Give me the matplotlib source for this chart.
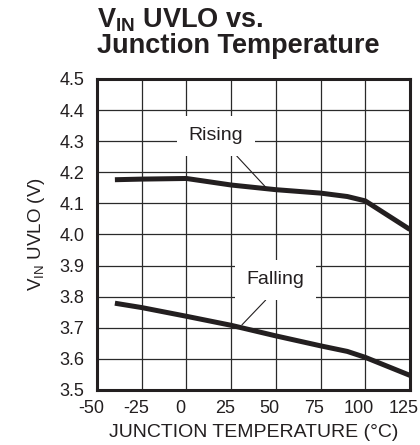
import matplotlib
matplotlib.use("Agg")
import matplotlib.pyplot as plt
import matplotlib.transforms as mtransforms

# data
temp = [-40, -25, 0, 25, 50, 75, 90, 100, 125]
rising = [4.176, 4.178, 4.180, 4.159, 4.144, 4.133, 4.122, 4.108, 4.016]
falling = [3.779, 3.765, 3.737, 3.708, 3.674, 3.642, 3.624, 3.605, 3.547]
x_ticks = [-50, -25, 0, 25, 50, 75, 100, 125]
y_ticks = [3.5, 3.6, 3.7, 3.8, 3.9, 4.0, 4.1, 4.2, 4.3, 4.4, 4.5]

plt.rcParams['font.family'] = ['Liberation Sans', 'DejaVu Sans']
plt.rcParams['mathtext.fontset'] = 'custom'
plt.rcParams['mathtext.rm'] = 'Liberation Sans'
plt.rcParams['mathtext.bf'] = 'Liberation Sans:bold'
plt.rcParams['axes.unicode_minus'] = False
ink = '#231f20'

fig = plt.figure(figsize=(4.2, 4.45), dpi=100)
ax = fig.add_axes([0.231, 0.1236, 0.745, 0.699])

ax.plot(temp, rising, color=ink, lw=3.6, solid_capstyle='butt', zorder=3)
ax.plot(temp, falling, color=ink, lw=3.6, solid_capstyle='butt', zorder=3)

ax.set_xlim(-50, 125)
ax.set_ylim(3.5, 4.5)
ax.set_xticks(x_ticks)
ax.set_yticks(y_ticks)
ax.set_yticklabels([f"{v:.1f}" for v in y_ticks])
ax.grid(True, color='#2a2a2a', lw=0.9)
ax.set_axisbelow(True)
ax.tick_params(length=0, labelsize=13, colors=ink)
ax.tick_params(axis='y', pad=9)
ax.tick_params(axis='x', pad=7)
for s in ax.spines.values():
    s.set_linewidth(2.2)
    s.set_color(ink)

# x tick labels sit a little left of their grid lines in the reference
shift = mtransforms.ScaledTranslation(-6 / 100, 0, fig.dpi_scale_trans)
for lbl in ax.get_xticklabels():
    lbl.set_transform(lbl.get_transform() + shift)

# labels with white boxes and leader lines
box = dict(boxstyle='square,pad=0.6', fc='white', ec='none')
ax.annotate('Rising', xy=(45, 4.148), xytext=(16.6, 4.317), fontsize=14, color=ink,
            ha='center', va='center', bbox=box,
            arrowprops=dict(arrowstyle='-', color=ink, lw=0.8, shrinkA=0, shrinkB=0,
                            relpos=(0.68, 0.0)))
ax.annotate('Falling', xy=(31, 3.709), xytext=(49.6, 3.854), fontsize=14, color=ink,
            ha='center', va='center', bbox=box,
            arrowprops=dict(arrowstyle='-', color=ink, lw=0.8, shrinkA=0, shrinkB=0,
                            relpos=(0.53, 0.0)))

ax.set_xlabel('JUNCTION TEMPERATURE (°C)', fontsize=14, color=ink, labelpad=5)
ax.set_ylabel(r'V$_\mathrm{IN}$ UVLO (V)', fontsize=13.5, color=ink, labelpad=9)

fig.text(97 / 420, 1 - 28 / 445, r'V$_\mathbf{IN}$ UVLO vs.',
         fontsize=19.5, fontweight='bold', color=ink, ha='left', va='baseline')
fig.text(97 / 420, 1 - 53 / 445, 'Junction Temperature',
         fontsize=19.5, fontweight='bold', color=ink, ha='left', va='baseline')

fig.savefig('out.png', dpi=100)
